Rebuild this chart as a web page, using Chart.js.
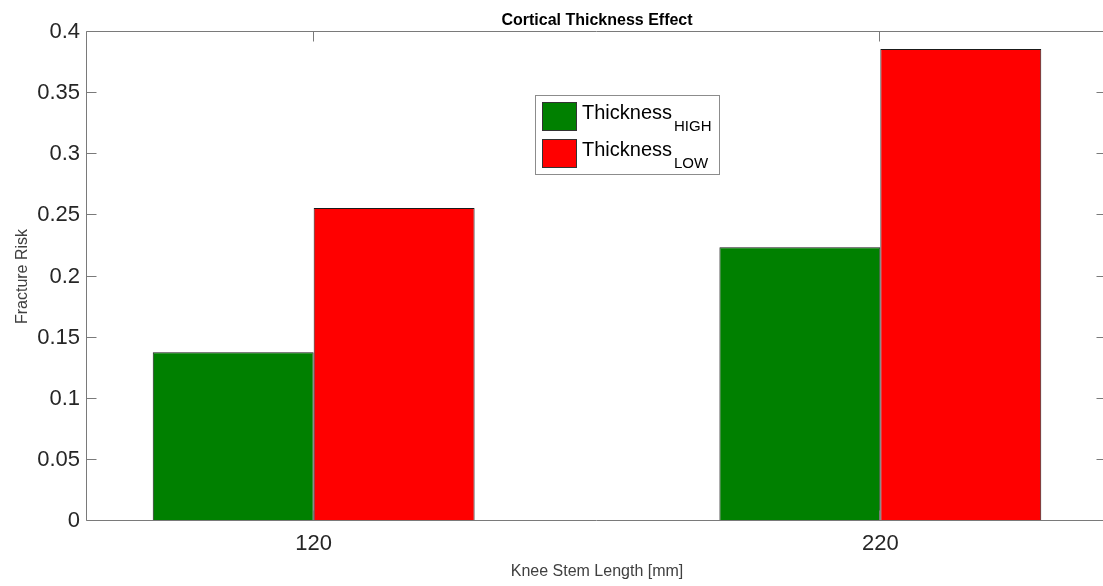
<!DOCTYPE html>
<html>
<head>
<meta charset="utf-8">
<title>Cortical Thickness Effect</title>
<script src="https://cdn.jsdelivr.net/npm/chart.js@4"></script>
<style>
    html, body { margin: 0; padding: 0; background: #fff; overflow: hidden; }
    #wrap { width: 1110px; height: 586px; }
</style>
</head>
<body>
<div id="wrap"><canvas id="riskChart" width="1110" height="586"></canvas></div>
<script>
// stem lengths on the x axis
var stemLengths = ['120', '220'];
// fracture risk per stem length
var riskHigh = [0.138, 0.224];
var riskLow = [0.256, 0.386];
// legend names, drawn as base text + subscript
var seriesNames = ['Thickness', 'Thickness'];
var seriesSubs = ['HIGH', 'LOW'];
var seriesColors = ['#008000', '#ff0000'];
var yTicks = [0, 0.05, 0.1, 0.15, 0.2, 0.25, 0.3, 0.35, 0.4];

var FONT = "'Liberation Sans', Arial, Helvetica, sans-serif";

function toPoints(values) {
    return values.map(function (v, i) { return { x: i + 1, y: v }; });
}

// title centred over the plot area
var titlePlugin = {
    id: 'plotTitle',
    afterDraw: function (chart) {
        var ctx = chart.ctx, area = chart.chartArea;
        ctx.save();
        ctx.font = 'bold 16px ' + FONT;
        ctx.fillStyle = '#000';
        ctx.textAlign = 'center';
        ctx.textBaseline = 'alphabetic';
        ctx.fillText('Cortical Thickness Effect', (area.left + area.right) / 2, 25);
        ctx.restore();
    }
};

// box around the axes with inward tick marks on all four sides
var axesBoxPlugin = {
    id: 'axesBox',
    afterDatasetsDraw: function (chart) {
        var ctx = chart.ctx, a = chart.chartArea;
        var xs = chart.scales.x, ys = chart.scales.y;
        var L = Math.round(a.left) - 0.5, R = Math.round(a.right) - 0.5;
        var T = Math.round(a.top) - 0.5, B = Math.round(a.bottom) - 0.5;
        ctx.save();
        ctx.strokeStyle = '#7a7a7a';
        ctx.lineWidth = 1;
        ctx.beginPath();
        ctx.rect(L, T, R - L, B - T);
        yTicks.forEach(function (v) {
            var y = Math.round(ys.getPixelForValue(v)) - 0.5;
            ctx.moveTo(L, y); ctx.lineTo(L + 10, y);
            ctx.moveTo(R, y); ctx.lineTo(R - 10, y);
        });
        stemLengths.forEach(function (s, i) {
            var x = Math.round(xs.getPixelForValue(i + 1)) - 0.5;
            ctx.moveTo(x, B); ctx.lineTo(x, B - 10);
            ctx.moveTo(x, T); ctx.lineTo(x, T + 10);
        });
        ctx.stroke();
        ctx.restore();
    }
};

// legend box with subscripted labels
var legendPlugin = {
    id: 'subLegend',
    afterDraw: function (chart) {
        var ctx = chart.ctx;
        var bx = 535, by = 95, bw = 184, bh = 79;
        ctx.save();
        ctx.fillStyle = '#fff';
        ctx.fillRect(bx, by, bw, bh);
        ctx.strokeStyle = '#8c8c8c';
        ctx.lineWidth = 1;
        ctx.strokeRect(bx + 0.5, by + 0.5, bw, bh);
        chart.data.datasets.forEach(function (ds, i) {
            var sy = 102 + i * 37;
            ctx.fillStyle = ds.backgroundColor;
            ctx.fillRect(542, sy, 35, 29);
            ctx.strokeStyle = '#333';
            ctx.strokeRect(542.5, sy + 0.5, 34, 28);
            ctx.fillStyle = '#000';
            ctx.textAlign = 'left';
            ctx.textBaseline = 'alphabetic';
            ctx.font = '20px ' + FONT;
            ctx.fillText(seriesNames[i], 582, sy + 17);
            var w = ctx.measureText(seriesNames[i]).width;
            ctx.font = '15px ' + FONT;
            ctx.fillText(seriesSubs[i], 582 + w + 2, sy + 29);
        });
        ctx.restore();
    }
};

new Chart(document.getElementById('riskChart'), {
    type: 'bar',
    data: {
        datasets: [{
            label: seriesNames[0] + seriesSubs[0],
            data: toPoints(riskHigh),
            backgroundColor: seriesColors[0],
            borderColor: '#1a1a1a',
            borderWidth: 1,
            borderSkipped: false
        }, {
            label: seriesNames[1] + seriesSubs[1],
            data: toPoints(riskLow),
            backgroundColor: seriesColors[1],
            borderColor: '#1a1a1a',
            borderWidth: 1,
            borderSkipped: false
        }]
    },
    options: {
        responsive: false,
        devicePixelRatio: 1,
        animation: false,
        layout: { padding: { top: 32, right: 3, left: 0, bottom: 0 } },
        datasets: { bar: { categoryPercentage: 0.568, barPercentage: 1 } },
        plugins: {
            legend: { display: false },
            title: { display: false },
            tooltip: { enabled: false }
        },
        scales: {
            x: {
                type: 'linear',
                offset: false,
                min: 0.6,
                max: 2.4,
                grid: { display: false, drawTicks: false },
                border: { display: false },
                afterBuildTicks: function (scale) {
                    scale.ticks = stemLengths.map(function (s, i) { return { value: i + 1 }; });
                },
                afterFit: function (scale) { scale.height = 65; },
                ticks: {
                    padding: 10,
                    color: '#262626',
                    font: { family: FONT, size: 22 },
                    callback: function (v) { return stemLengths[v - 1]; }
                },
                title: {
                    display: true,
                    text: 'Knee Stem Length [mm]',
                    color: '#404040',
                    font: { family: FONT, size: 16 },
                    padding: { top: 0, bottom: 5 }
                }
            },
            y: {
                min: 0,
                max: 0.4,
                grid: { display: false, drawTicks: false },
                border: { display: false },
                afterBuildTicks: function (scale) {
                    scale.ticks = yTicks.map(function (v) { return { value: v }; });
                },
                afterFit: function (scale) { scale.width = 87; },
                ticks: {
                    padding: 7,
                    color: '#262626',
                    font: { family: FONT, size: 22 },
                    callback: function (v) { return String(parseFloat(v.toFixed(2))); }
                },
                title: {
                    display: true,
                    text: 'Fracture Risk',
                    color: '#404040',
                    font: { family: FONT, size: 16 },
                    padding: { top: 13, bottom: 0 }
                }
            }
        }
    },
    plugins: [titlePlugin, axesBoxPlugin, legendPlugin]
});
</script>
</body>
</html>
